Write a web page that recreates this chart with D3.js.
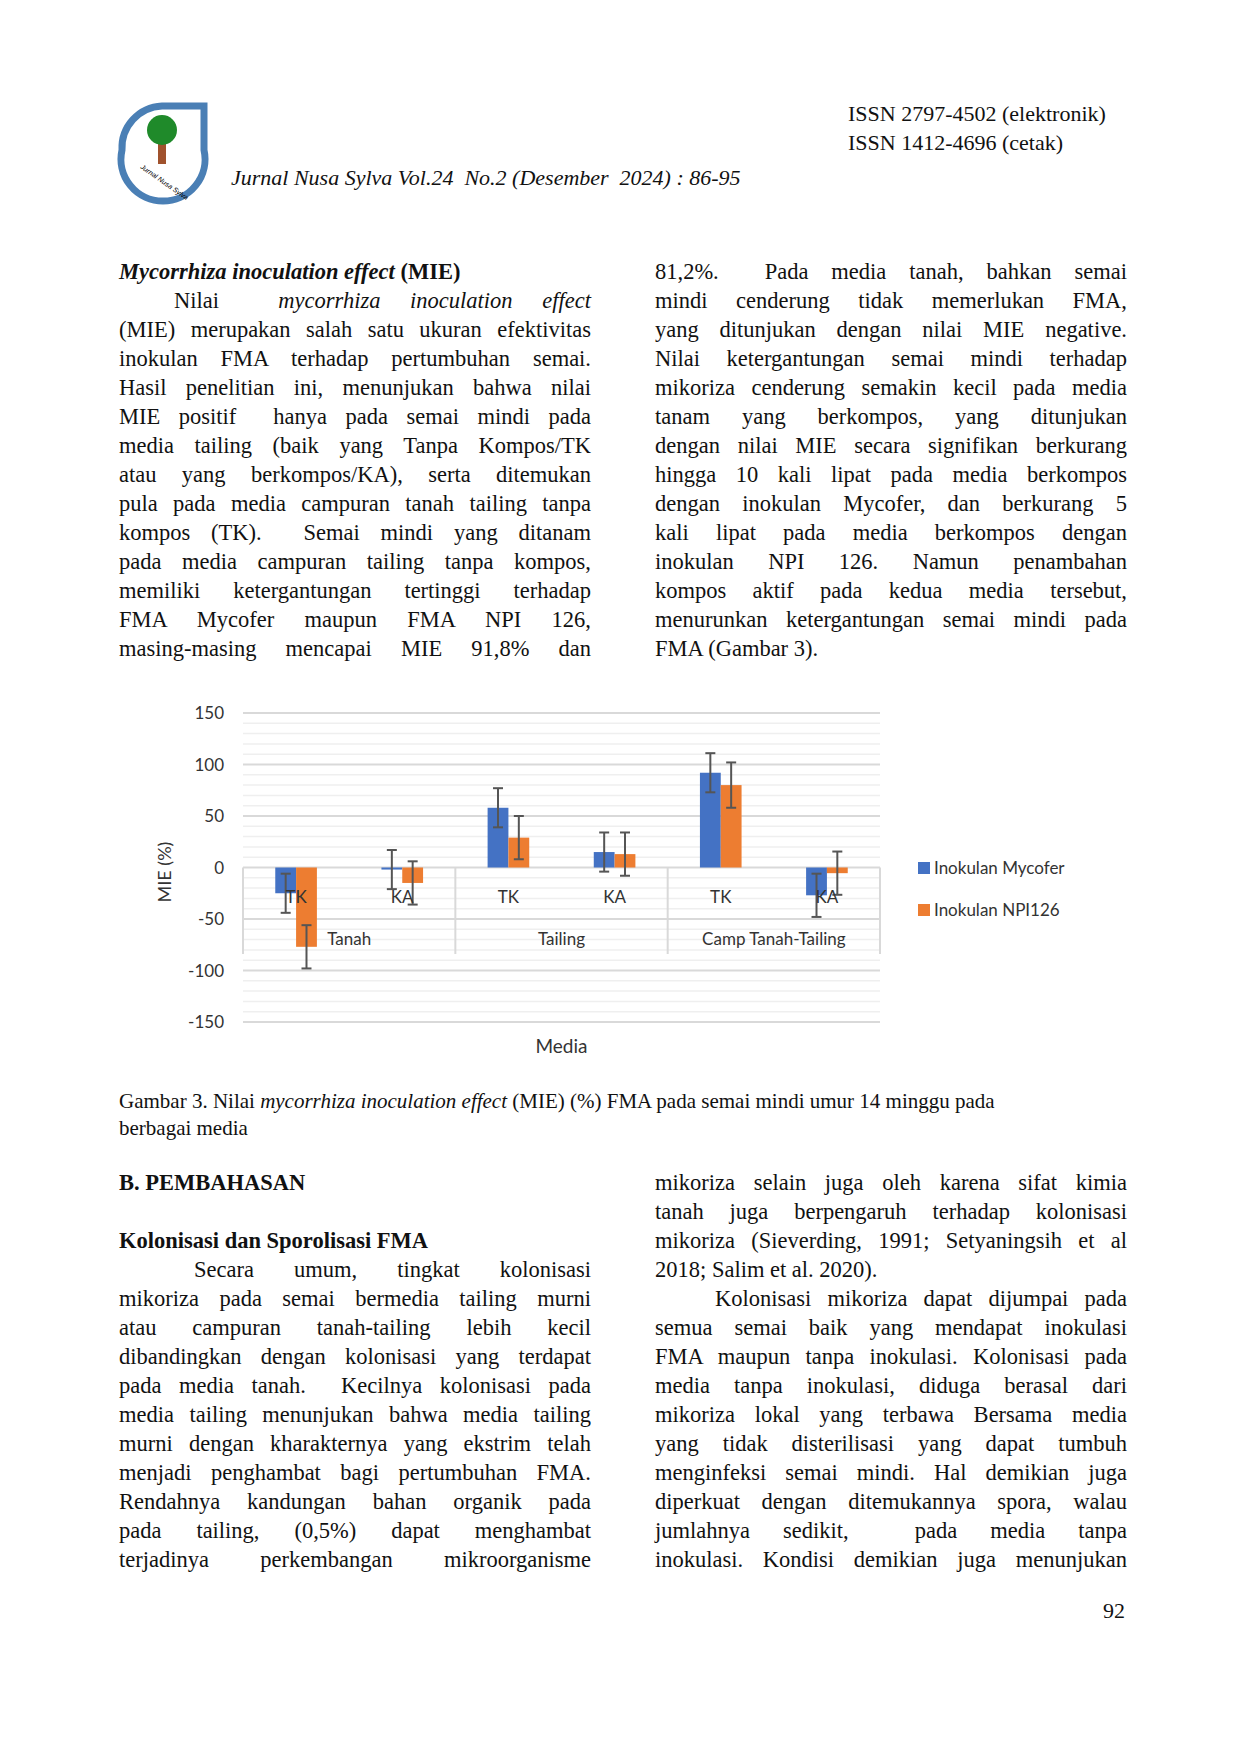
<!DOCTYPE html>
<html><head><meta charset="utf-8">
<script src="https://cdn.jsdelivr.net/npm/d3@7"></script>
<style>
body{margin:0;background:#fff;}
#page{position:relative;width:1240px;height:1754px;font-family:"Liberation Serif","Times New Roman",serif;color:#111;}
.col{position:absolute;width:472px;font-size:22.5px;line-height:29px;}
.ln{text-align:justify;text-align-last:justify;white-space:nowrap;height:29px;}
.ln.l{text-align-last:left;}
.abs{position:absolute;white-space:nowrap;}
svg{position:absolute;left:0;top:0;}
</style></head>
<body><div id="page"></div>
<script>
// chart data
const groups = ["Tanah", "Tailing", "Camp Tanah-Tailing"];
const subs = ["TK", "KA"];
const seriesNames = ["Inokulan Mycofer", "Inokulan NPI126"];
const mycofer = [-25, -2, 58, 15, 92, -27];
const mycoferErr = [19, 19, 19, 19, 19, 21];
const npi = [-77, -15, 29, 13, 80, -5.5];
const npiErr = [21, 21, 21, 21, 22, 21];
const yTicks = [150, 100, 50, 0, -50, -100, -150];

const page = d3.select("#page");

// text columns
const topLeft = [
  ["l","<b><i>Mycorrhiza inoculation effect</i> (MIE)</b>"],
  ["i55","Nilai &nbsp;<i>mycorrhiza inoculation effect</i>"],
  ["","(MIE) merupakan salah satu ukuran efektivitas"],
  ["","inokulan FMA terhadap pertumbuhan semai."],
  ["","Hasil penelitian ini, menunjukan bahwa nilai"],
  ["","MIE positif &nbsp;hanya pada semai mindi pada"],
  ["","media tailing (baik yang Tanpa Kompos/TK"],
  ["","atau yang berkompos/KA), serta ditemukan"],
  ["","pula pada media campuran tanah tailing tanpa"],
  ["","kompos (TK). &nbsp;Semai mindi yang ditanam"],
  ["","pada media campuran tailing tanpa kompos,"],
  ["","memiliki ketergantungan tertinggi terhadap"],
  ["","FMA Mycofer maupun FMA NPI 126,"],
  ["","masing-masing mencapai MIE 91,8% dan"]];
const topRight = [
  ["","81,2%. &nbsp;Pada media tanah, bahkan semai"],
  ["","mindi cenderung tidak memerlukan FMA,"],
  ["","yang ditunjukan dengan nilai MIE negative."],
  ["","Nilai ketergantungan semai mindi terhadap"],
  ["","mikoriza cenderung semakin kecil pada media"],
  ["","tanam yang berkompos, yang ditunjukan"],
  ["","dengan nilai MIE secara signifikan berkurang"],
  ["","hingga 10 kali lipat pada media berkompos"],
  ["","dengan inokulan Mycofer, dan berkurang 5"],
  ["","kali lipat pada media berkompos dengan"],
  ["","inokulan NPI 126. Namun penambahan"],
  ["","kompos aktif pada kedua media tersebut,"],
  ["","menurunkan ketergantungan semai mindi pada"],
  ["l","FMA (Gambar 3)."]];
const botLeft = [
  ["l","<b>B. PEMBAHASAN</b>"],
  ["l","&nbsp;"],
  ["l","<b>Kolonisasi dan Sporolisasi FMA</b>"],
  ["i75","Secara umum, tingkat kolonisasi"],
  ["","mikoriza pada semai bermedia tailing murni"],
  ["","atau campuran tanah-tailing lebih kecil"],
  ["","dibandingkan dengan kolonisasi yang terdapat"],
  ["","pada media tanah. &nbsp;Kecilnya kolonisasi pada"],
  ["","media tailing menunjukan bahwa media tailing"],
  ["","murni dengan kharakternya yang ekstrim telah"],
  ["","menjadi penghambat bagi pertumbuhan FMA."],
  ["","Rendahnya kandungan bahan organik pada"],
  ["","pada tailing, (0,5%) dapat menghambat"],
  ["","terjadinya perkembangan mikroorganisme"]];
const botRight = [
  ["","mikoriza selain juga oleh karena sifat kimia"],
  ["","tanah juga berpengaruh terhadap kolonisasi"],
  ["","mikoriza (Sieverding, 1991; Setyaningsih et al"],
  ["l","2018; Salim et al. 2020)."],
  ["i60","Kolonisasi mikoriza dapat dijumpai pada"],
  ["","semua semai baik yang mendapat inokulasi"],
  ["","FMA maupun tanpa inokulasi. Kolonisasi pada"],
  ["","media tanpa inokulasi, diduga berasal dari"],
  ["","mikoriza lokal yang terbawa Bersama media"],
  ["","yang tidak disterilisasi yang dapat tumbuh"],
  ["","menginfeksi semai mindi. Hal demikian juga"],
  ["","diperkuat dengan ditemukannya spora, walau"],
  ["","jumlahnya sedikit, &nbsp;pada media tanpa"],
  ["","inokulasi. Kondisi demikian juga menunjukan"]];

function column(lines, x, y) {
  const c = page.append("div").attr("class", "col").style("left", x + "px").style("top", y + "px");
  lines.forEach(([k, h]) => {
    const d = c.append("div").attr("class", "ln" + (k === "l" ? " l" : "")).html(h);
    if (k.startsWith("i")) d.style("padding-left", k.slice(1) + "px");
  });
}
column(topLeft, 119, 257);
column(topRight, 655, 257);
column(botLeft, 119, 1168);
column(botRight, 655, 1168);

page.append("div").attr("class", "abs").style("left", "848px").style("top", "99px")
  .style("font-size", "22px").style("line-height", "29px")
  .html("ISSN 2797-4502 (elektronik)<br>ISSN 1412-4696 (cetak)");
page.append("div").attr("class", "abs").style("left", "231px").style("top", "165px")
  .style("font-size", "22px").style("font-style", "italic")
  .html("Jurnal Nusa Sylva Vol.24 &nbsp;No.2 (Desember &nbsp;2024) : 86-95");
page.append("div").attr("class", "abs").style("left", "119px").style("top", "1088px")
  .style("font-size", "21px").style("line-height", "27px")
  .html("Gambar 3. Nilai <i>mycorrhiza inoculation effect</i> (MIE) (%) FMA pada semai mindi umur 14 minggu pada<br>berbagai media");
page.append("div").attr("class", "abs").style("left", "1103px").style("top", "1598px")
  .style("font-size", "22px").text("92");

const svg = page.append("svg").attr("width", 1240).attr("height", 1754);

// logo
const logo = svg.append("g").attr("transform", "translate(162,150)");
logo.append("path").attr("d", "M-40,0 A42,42 0 1 0 42,0 L42,-44 L0,-44 A42,42 0 0 0 -40,0 Z")
  .attr("fill", "none").attr("stroke", "#4a7fb5").attr("stroke-width", 7);
logo.append("rect").attr("x", -4).attr("y", -12).attr("width", 8).attr("height", 26).attr("fill", "#a0522d");
logo.append("circle").attr("cx", 0).attr("cy", -20).attr("r", 15).attr("fill", "#1f8a2a");
logo.append("text").attr("x", -22).attr("y", 18).attr("font-size", 7).attr("font-style", "italic")
  .attr("transform", "rotate(35,-22,18)").attr("font-family", "Liberation Sans").text("Jurnal Nusa Sylva");

// chart
const left = 243, right = 880;
const y = d3.scaleLinear().domain([-150, 150]).range([1022, 713]);
const subKeys = d3.range(groups.length * subs.length);
const x = d3.scaleBand().domain(subKeys).range([left, right]);
const xs = d3.scaleBand().domain([0, 1]).range([0, x.bandwidth()]).paddingInner(0).paddingOuter(1.55);
const font = "Lato, 'Noto Sans', sans-serif";
const ch = svg.append("g");

ch.selectAll(".minor").data(d3.range(-150, 151, 10).filter(v => v % 50 !== 0)).join("line")
  .attr("x1", left).attr("x2", right).attr("y1", d => y(d)).attr("y2", d => y(d))
  .attr("stroke", "#efefef").attr("stroke-width", 1.5);
ch.selectAll(".major").data(yTicks).join("line")
  .attr("x1", left).attr("x2", right).attr("y1", d => y(d)).attr("y2", d => y(d))
  .attr("stroke", "#d9d9d9").attr("stroke-width", 2);
ch.selectAll(".ytl").data(yTicks).join("text")
  .attr("x", 224).attr("y", d => y(d) + 6).attr("text-anchor", "end")
  .attr("font-family", font).attr("font-size", 17).attr("fill", "#333").text(d => d);

// category axis box
const boxBottom = 954;
ch.selectAll(".sep").data([0, 2, 4, 6]).join("line")
  .attr("x1", d => d < 6 ? x(d) : right).attr("x2", d => d < 6 ? x(d) : right)
  .attr("y1", y(0)).attr("y2", boxBottom).attr("stroke", "#d9d9d9").attr("stroke-width", 2);

const series = [
  {vals: mycofer, err: mycoferErr, color: "#4472c4"},
  {vals: npi, err: npiErr, color: "#ed7d31"}];
series.forEach((s, si) => {
  ch.selectAll(".b" + si).data(s.vals).join("rect")
    .attr("x", (d, i) => x(i) + xs(si)).attr("width", xs.bandwidth())
    .attr("y", d => y(Math.max(0, d))).attr("height", d => Math.abs(y(d) - y(0)))
    .attr("fill", s.color);
});
series.forEach((s, si) => {
  const g = ch.selectAll(".e" + si).data(s.vals).join("g")
    .attr("transform", (d, i) => `translate(${x(i) + xs(si) + xs.bandwidth() / 2},0)`);
  g.append("line").attr("y1", (d, i) => y(d + s.err[i])).attr("y2", (d, i) => y(d - s.err[i]))
    .attr("stroke", "#555").attr("stroke-width", 2);
  [1, -1].forEach(sg => g.append("line").attr("x1", -5).attr("x2", 5)
    .attr("y1", (d, i) => y(d + sg * s.err[i])).attr("y2", (d, i) => y(d + sg * s.err[i]))
    .attr("stroke", "#555").attr("stroke-width", 2));
});
ch.selectAll(".sl").data(subKeys).join("text")
  .attr("x", d => x(d) + x.bandwidth() / 2).attr("y", 903).attr("text-anchor", "middle")
  .attr("font-family", font).attr("font-size", 17).attr("fill", "#333").text(d => subs[d % 2]);
ch.selectAll(".gl").data(groups).join("text")
  .attr("x", (d, i) => x(i * 2) + x.bandwidth()).attr("y", 945).attr("text-anchor", "middle")
  .attr("font-family", font).attr("font-size", 17).attr("fill", "#333").text(d => d);

ch.append("text").attr("x", (left + right) / 2).attr("y", 1053).attr("text-anchor", "middle")
  .attr("font-family", font).attr("font-size", 19).attr("fill", "#333").text("Media");
ch.append("text").attr("transform", "translate(171,872) rotate(-90)").attr("text-anchor", "middle")
  .attr("font-family", font).attr("font-size", 18).attr("fill", "#333").text("MIE (%)");

const lg = ch.selectAll(".lg").data(seriesNames).join("g")
  .attr("transform", (d, i) => `translate(918,${869 + i * 42})`);
lg.append("rect").attr("x", 0).attr("y", -7).attr("width", 12).attr("height", 12)
  .attr("fill", (d, i) => series[i].color);
lg.append("text").attr("x", 16).attr("y", 5).attr("font-family", font).attr("font-size", 17)
  .attr("fill", "#333").text(d => d);
</script></body></html>
